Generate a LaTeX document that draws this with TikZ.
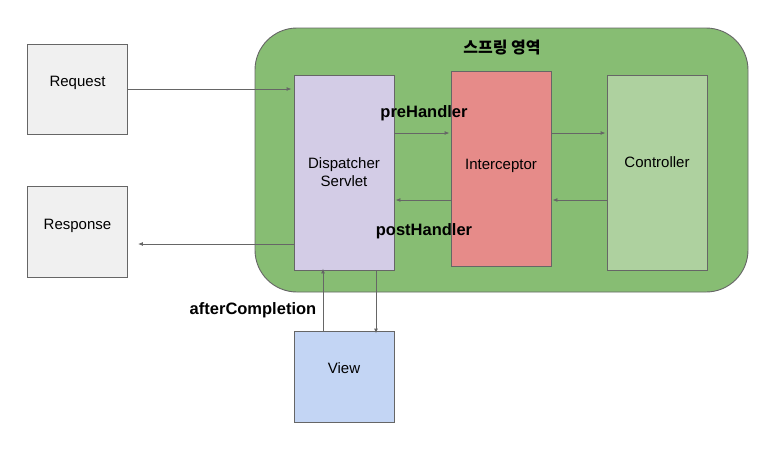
\documentclass[tikz,border=0pt]{standalone}
\usepackage{fontspec}
\setmainfont{Liberation Sans}
\newfontfamily\kofont{Noto Sans CJK KR}
\usetikzlibrary{arrows.meta}
\definecolor{edge}{HTML}{666666}
\definecolor{springgreen}{HTML}{87BD73}
\definecolor{reqgray}{HTML}{F0F0F0}
\definecolor{dispurple}{HTML}{D3CCE6}
\definecolor{intred}{HTML}{E68B89}
\definecolor{ctrlgreen}{HTML}{AED19F}
\definecolor{viewblue}{HTML}{C3D5F4}
\tikzset{
  box/.style={draw=edge, line width=0.9pt, minimum width=100pt, inner sep=0pt, font=\fontsize{15}{18}\selectfont, align=center},
  conn/.style={draw=edge, line width=0.9pt, -{Latex[length=5pt,width=4pt]}},
  lbl/.style={font=\bfseries\fontsize{16.5}{19}\selectfont, inner sep=0pt}
}
\begin{document}
\begin{tikzpicture}[x=1pt,y=-1pt]
\useasboundingbox (0,0) rectangle (771,451);
\fill[white] (0,0) rectangle (771,451);
% spring area
\node[draw=edge, line width=0.9pt, fill=springgreen, rounded corners=42pt, minimum width=493pt, minimum height=264pt, inner sep=0pt] (area) at (501.5,160) {};
\node[font=\kofont\bfseries\fontsize{16}{19}\selectfont] (title) at (502,48) {스프링 영역};
% boxes
\node[box, fill=reqgray, minimum height=90pt] (req) at (77.5,89) {\raisebox{16pt}{Request}};
\node[box, fill=reqgray, minimum height=91pt] (resp) at (77.5,231.5) {\raisebox{14pt}{Response}};
\node[box, fill=dispurple, minimum height=195pt] (disp) at (344,172.5) {Dispatcher\\Servlet};
\node[box, fill=intred, minimum height=195pt] (int) at (501,168.5) {\raisebox{9pt}{Interceptor}};
\node[box, fill=ctrlgreen, minimum height=195pt] (ctrl) at (657,172.5) {\raisebox{21pt}{Controller}};
\node[box, fill=viewblue, minimum height=91pt] (view) at (344,376.5) {\raisebox{17pt}{View}};
% arrows
\draw[conn] (req.east |- 0,89) -- ([xshift=-2pt]disp.west |- 0,89);
\draw[conn] (disp.east |- 0,133) -- ([xshift=-1pt]int.west |- 0,133);
\draw[conn] (int.east |- 0,133) -- ([xshift=-1pt]ctrl.west |- 0,133);
\draw[conn] (ctrl.west |- 0,200) -- ([xshift=1pt]int.east |- 0,200);
\draw[conn] (int.west |- 0,200) -- ([xshift=1pt]disp.east |- 0,200);
\draw[conn] (disp.west |- 0,244) -- ([xshift=10pt]resp.east |- 0,244);
\draw[conn] (view.north -| 323,0) -- ([yshift=2pt]disp.south -| 323,0);
\draw[conn] (disp.south -| 376,0) -- ([yshift=-3pt]view.north -| 376,0);
% labels
\node[lbl] (pre) at (424,113) {preHandler};
\node[lbl] (post) at (424,231) {postHandler};
\node[lbl] (after) at (253,310) {afterCompletion};
\end{tikzpicture}
\end{document}
